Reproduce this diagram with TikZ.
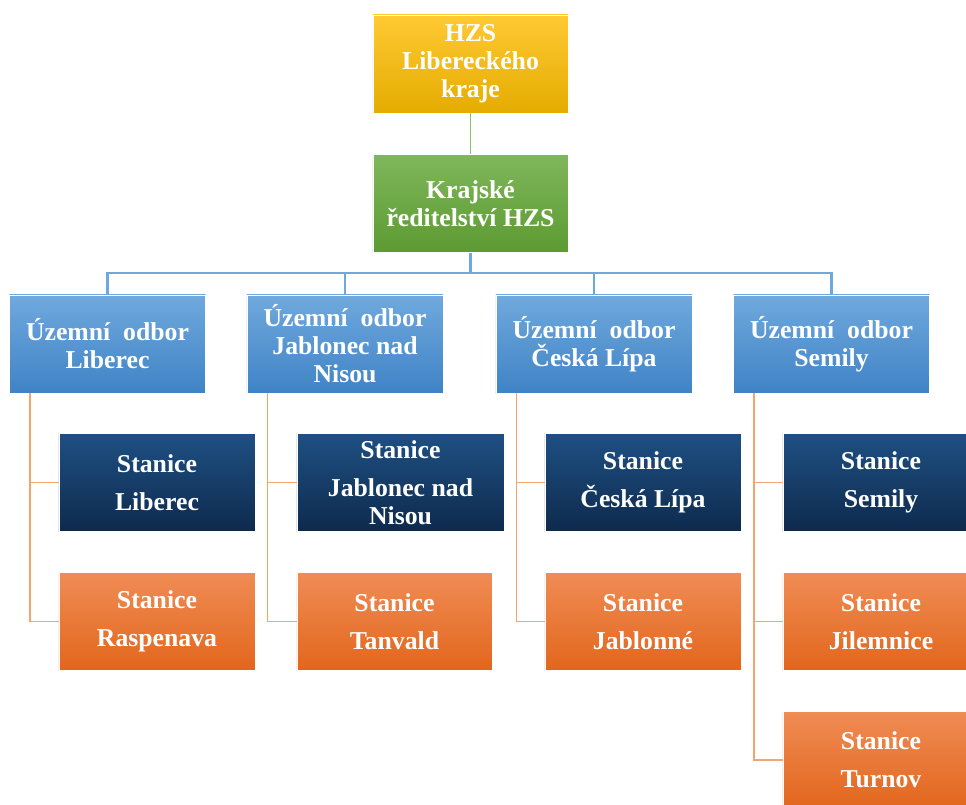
\documentclass[tikz,border=0pt]{standalone}
\usepackage{fontspec}
\setmainfont{Liberation Serif}
\usetikzlibrary{calc}

\definecolor{yelTop}{HTML}{FFC933}
\definecolor{yelBot}{HTML}{E5AC00}
\definecolor{grnTop}{HTML}{7FB75B}
\definecolor{grnBot}{HTML}{5C9A32}
\definecolor{bluTop}{HTML}{70A9DD}
\definecolor{bluBot}{HTML}{3F83C6}
\definecolor{navTop}{HTML}{1E5083}
\definecolor{navBot}{HTML}{0E2A4D}
\definecolor{oraTop}{HTML}{F08C55}
\definecolor{oraBot}{HTML}{E2661C}
\definecolor{grnLine}{HTML}{8DC06B}
\definecolor{bluLine}{HTML}{6FA8DC}
\definecolor{oraLine}{HTML}{F4A46F}

\begin{document}
\begin{tikzpicture}[x=0.025cm,y=-0.025cm,
    box/.style={draw=white, line width=0.5pt, text=white, inner sep=0pt,
      font=\bfseries\fontsize{18.3}{19.9}\selectfont, align=center,
      minimum width=4.9cm, minimum height=2.45cm},
    yelbox/.style={box, top color=yelTop, bottom color=yelBot},
    grnbox/.style={box, top color=grnTop, bottom color=grnBot},
    blubox/.style={box, top color=bluTop, bottom color=bluBot},
    navbox/.style={box, top color=navTop, bottom color=navBot},
    orabox/.style={box, top color=oraTop, bottom color=oraBot},
    greenlink/.style={draw=grnLine, line width=1pt},
    bluelink/.style={draw=bluLine, line width=1.6pt},
    orangelink/.style={draw=oraLine, line width=1.1pt}]
		%%%%% START %%%%%
		\useasboundingbox (0,0) rectangle (966,804);
		\clip (0,0) rectangle (966,804);
		
		% vedeni
		\node[yelbox, minimum width=4.875cm] (hzs) at (470.5,64) {HZS\\Libereckého\\kraje};
		\node[grnbox, minimum width=4.875cm] (kraj) at (470.5,203.5) {Krajské\\ředitelství HZS};
		
		% uzemni odbory
		\node[blubox] (odb1) at (107.5,344) {Územní\ \ odbor\\Liberec};
		\node[blubox] (odb2) at (345,344) {Územní\ \ odbor\\Jablonec nad\\Nisou};
		\node[blubox] (odb3) at (594,344) {Územní\ \ odbor\\Česká Lípa};
		\node[blubox] (odb4) at (831.5,344) {Územní\ \ odbor\\Semily};
		
		% stanice
		\node[navbox] (stan1a) at (157,482.5) {Stanice\\[7pt]Liberec};
		\node[navbox, minimum width=5.175cm] (stan2a) at (400.5,482.5) {Stanice\\[7pt]Jablonec nad\\Nisou};
		\node[navbox] (stan3a) at (643,482.5) {Stanice\\[7pt]Česká Lípa};
		\node[navbox] (stan4a) at (881,482.5) {Stanice\\[7pt]Semily};
		
		\node[orabox] (stan1b) at (157,621.5) {Stanice\\[7pt]Raspenava};
		\node[orabox, minimum width=4.875cm] (stan2b) at (394.5,621.5) {Stanice\\[7pt]Tanvald};
		\node[orabox] (stan3b) at (643,621.5) {Stanice\\[7pt]Jablonné};
		\node[orabox] (stan4b) at (881,621.5) {Stanice\\[7pt]Jilemnice};
		\node[orabox] (stan4c) at (881,760) {Stanice\\[7pt]Turnov};
		
		% spoje
		\draw[greenlink] (hzs.south) -- (kraj.north);
		\coordinate (bus) at (0,273);
		\draw[bluelink] (kraj.south) -- (kraj.south |- bus);
		\draw[bluelink] (odb1.north) -- (odb1.north |- bus) -- (odb4.north |- bus) -- (odb4.north);
		\foreach \i in {2,3}
			\draw[bluelink] (odb\i.north) -- (odb\i.north |- bus);
		
		\foreach \i in {1,2,3,4}{
			\draw[orangelink] ($(odb\i.south west)+(21,0)$) |- (stan\i b.west);
			\draw[orangelink] ($(odb\i.south west)+(21,0)$) |- (stan\i a.west);
		}
		\draw[orangelink] ($(odb4.south west)+(21,0)$) |- (stan4c.west);
		
		%%%%% END %%%%%
	\end{tikzpicture}
\end{document}
